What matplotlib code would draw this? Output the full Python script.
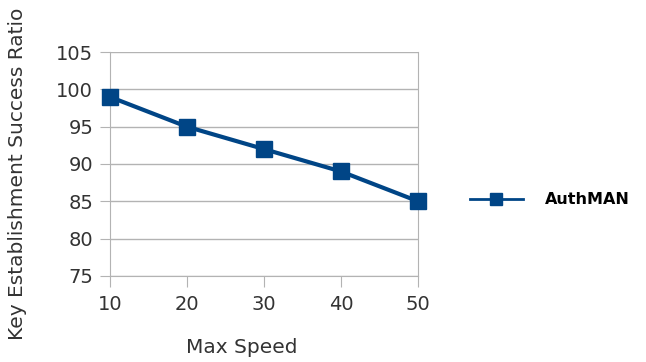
import matplotlib.pyplot as plt
from matplotlib.lines import Line2D

speeds = [10, 20, 30, 40, 50]
success = [99, 95, 92, 89, 85]
y_ticks = [75, 80, 85, 90, 95, 100, 105]

color = '#004586'
plt.rcParams['font.family'] = ['DejaVu Sans']

fig = plt.figure(figsize=(6.46, 3.62), dpi=100)
ax = fig.add_axes([0.170, 0.238, 0.477, 0.618])

ax.plot(speeds, success, color=color, linewidth=3, marker='s',
        markersize=11, clip_on=False, zorder=3)

ax.set_xlim(10, 50)
ax.set_ylim(75, 105)
ax.set_xticks(speeds)
ax.set_yticks(y_ticks)
ax.tick_params(axis='both', labelsize=14, colors='#b3b3b3', labelcolor='#333333',
               length=7, pad=5)
ax.tick_params(axis='x', length=8, pad=6)
ax.grid(axis='y', color='#b3b3b3', linewidth=1)
ax.set_axisbelow(True)
for s in ax.spines.values():
    s.set_color('#b3b3b3')
ax.spines['top'].set_visible(False)

ax.set_xlabel('Max Speed', fontsize=14.5, color='#333333')
ax.xaxis.set_label_coords(0.427, -0.28)
ax.set_ylabel('Key Establishment Success Ratio', fontsize=14.5, color='#333333')
ax.yaxis.set_label_coords(-0.27, 0.455)

# legend handle drawn thinner than the data line
handle = Line2D([], [], color=color, linewidth=2, marker='s', markersize=8)
fig.legend([handle], ['AuthMAN'], loc='center left', bbox_to_anchor=(0.705, 0.448),
           frameon=False, handlelength=3.3, handletextpad=1.4,
           prop={'weight': 'bold', 'size': 11.5})

fig.savefig('out.png', dpi=100)
